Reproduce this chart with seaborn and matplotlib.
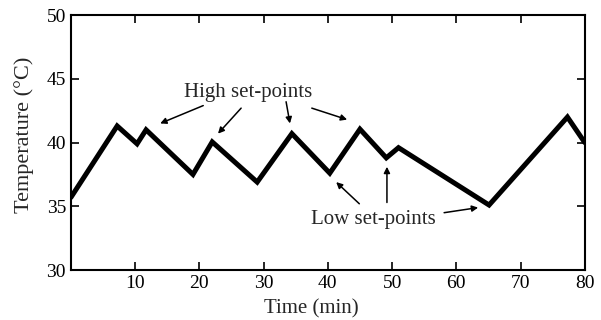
import matplotlib
matplotlib.use("Agg")
import matplotlib.pyplot as plt
import seaborn as sns
import pandas as pd

# Datos
tiempo_min = [0, 7.2, 10.3, 11.7, 19.0, 22.0, 29.0, 34.4, 40.3, 45.0, 49.1, 51.0, 65.1, 77.3, 80]
temperatura_c = [35.7, 41.3, 39.9, 41.0, 37.5, 40.05, 36.9, 40.7, 37.6, 41.05, 38.8, 39.6, 35.1, 42.0, 40.0]

x_ticks = [10, 20, 30, 40, 50, 60, 70, 80]
y_ticks = [30, 35, 40, 45, 50]

# flechas: (cola, punta) en coordenadas de datos
flechas_altas = [((20.6, 42.9), (13.9, 41.5)),
                 ((26.5, 42.7), (22.9, 40.7)),
                 ((33.5, 43.2), (34.1, 41.5)),
                 ((37.5, 42.7), (43.0, 41.8))]
flechas_bajas = [((44.9, 35.2), (41.3, 36.9)),
                 ((49.2, 35.3), (49.2, 38.1)),
                 ((58.1, 34.5), (63.4, 34.9))]

sns.set_theme(style="ticks")
plt.rcParams['font.family'] = ['Liberation Serif', 'DejaVu Serif']

df = pd.DataFrame({"Tiempo": tiempo_min, "Temperatura": temperatura_c})

fig = plt.figure(figsize=(6.01, 3.2), dpi=100)
ax = fig.add_axes([0.118, 0.156, 0.855, 0.797])

sns.lineplot(data=df, x="Tiempo", y="Temperatura", sort=False, estimator=None,
             color="black", linewidth=3.6, ax=ax)
for ln in ax.lines:
    ln.set_solid_joinstyle('miter')

ax.set_xlim(0, 80)
ax.set_ylim(30, 50)
ax.set_xticks(x_ticks)
ax.set_yticks(y_ticks)
ax.tick_params(direction='in', length=6, width=1.2, top=True, right=True,
               labelsize=14, colors='black')
for s in ax.spines.values():
    s.set_linewidth(1.5)
    s.set_color('black')

ax.set_xlabel('Time (min)', fontsize=15)
ax.set_ylabel('Temperature (°C)', fontsize=16)
ax.xaxis.set_label_coords(0.467, -0.115)
ax.yaxis.set_label_coords(-0.072, 0.53)

ax.text(27.6, 43.9, 'High set-points', fontsize=15, ha='center', va='center')
ax.text(47.1, 34.0, 'Low set-points', fontsize=15, ha='center', va='center')

props = dict(arrowstyle='-|>', color='black', lw=1.1, mutation_scale=9,
             shrinkA=0, shrinkB=0)
for cola, punta in flechas_altas + flechas_bajas:
    ax.annotate('', xy=punta, xytext=cola, arrowprops=props)

fig.savefig('out.png', dpi=100)
plt.close(fig)
